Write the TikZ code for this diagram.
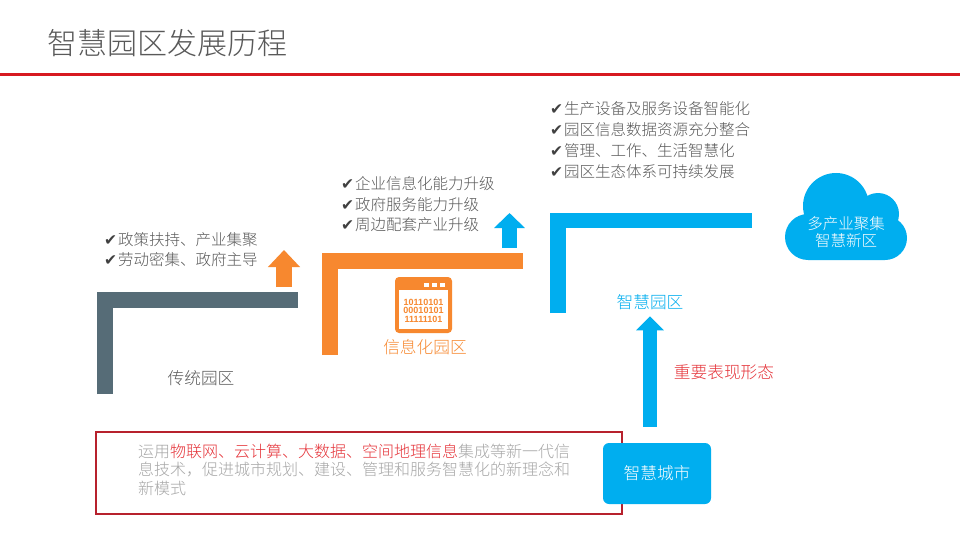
\documentclass[tikz,border=0pt]{standalone}
\usepackage{fontspec}
\setmainfont{Noto Sans CJK SC Light}
\newfontfamily\symfont{DejaVu Sans}
\newfontfamily\bitfont{Liberation Sans}
\usetikzlibrary{arrows.meta}
\definecolor{slate}{HTML}{566C77}
\definecolor{ora}{HTML}{F7882F}
\definecolor{sky}{HTML}{00AEEF}
\definecolor{redline}{HTML}{D71920}
\definecolor{boxred}{HTML}{B7212D}
\definecolor{txtred}{HTML}{E53238}
\definecolor{txtgray}{HTML}{595959}
\definecolor{ltgray}{HTML}{A6A6A6}
\definecolor{chkgray}{HTML}{404040}
\newcommand{\chk}{{\symfont\color{chkgray}✔}\kern1pt}
\tikzset{stepbar/.style={line width=16pt,line join=miter}}
\tikzset{uparr/.style n args={3}{line width=#1,-{Triangle[width=#2,length=#3]}}}
\tikzset{bul/.style={anchor=west,inner sep=0pt,align=left,text=txtgray}}
\tikzset{lbl/.style={inner sep=0pt,font=\fontsize{16.7}{17}\selectfont}}

\begin{document}
\begin{tikzpicture}[x=1pt,y=-1pt]
\useasboundingbox (0,0) rectangle (960,540);
\fill[white] (0,0) rectangle (960,540);
\node (title) at (47,43) [anchor=west,inner sep=0pt,text=txtgray,font=\fontsize{30}{30}\selectfont] {智慧园区发展历程};
\draw[redline,line width=2.5pt] (0,74.5)--(960,74.5);
\draw[stepbar,slate] (105,394)--(105,300)--(298,300);
\draw[stepbar,ora] (330,355)--(330,261)--(523,261);
\draw[stepbar,sky,line width=15.5pt] (558,313)--(558,220.5)--(752,220.5);
\draw[uparr={16pt}{31pt}{17pt},ora] (284,287)--(284,250);
\draw[uparr={15pt}{30pt}{15pt},sky] (509.5,248)--(509.5,213);
\node (trad) at (104,250) [bul,font=\fontsize{15.5}{20}\selectfont] {\chk 政策扶持、产业集聚\\\chk 劳动密集、政府主导};
\node (info) at (341,204.5) [bul,font=\fontsize{15.5}{20.5}\selectfont] {\chk 企业信息化能力升级\\\chk 政府服务能力升级\\\chk 周边配套产业升级};
\node (smart) at (550,140.5) [bul,font=\fontsize{15.5}{21}\selectfont] {\chk 生产设备及服务设备智能化\\\chk 园区信息数据资源充分整合\\\chk 管理、工作、生活智慧化\\\chk 园区生态体系可持续发展};
\node (tradlbl) at (201,378) [lbl,text=txtgray] {传统园区};
\node (infolbl) at (425,347) [lbl,text=ora] {信息化园区};
\node (park) at (650,302) [lbl,text=sky] {智慧园区};
\fill[ora,rounded corners=4pt] (395,277) rectangle (452,333);
\fill[white] (399,290) rectangle (448,329);
\foreach \i in {0,1,2}
  \fill[white] (424+\i*8,283) rectangle ++(5,4);
\node (bits) at (423.5,310.5) [inner sep=0pt,align=center,text=ora,font=\bitfont\bfseries\fontsize{9}{8.6}\selectfont] {10110101\\00010101\\11111101};
\fill[sky] (836,206) circle (33pt) (878,214) circle (21pt) (885,238) circle (22pt) (808,237) circle (23pt) (808,226) rectangle (885,260);
\node (cloud) at (846,232) [inner sep=0pt,align=center,text=white,font=\fontsize{15.5}{17}\selectfont] {多产业聚集\\智慧新区};
\draw[boxred,line width=2pt] (96,432) rectangle (622,514);
\node (desc) at (138,469.7) [bul,text=ltgray,font=\fontsize{16}{18.5}\selectfont] {运用\textcolor{txtred}{物联网、云计算、大数据、空间地理信息}集成等新一代信\\息技术，促进城市规划、建设、管理和服务智慧化的新理念和\\新模式};
\node (city) at (657,473.5) [fill=sky,rounded corners=6pt,minimum width=108pt,minimum height=61pt,text=white,font=\fontsize{16.7}{17}\selectfont] {智慧城市};
\draw[uparr={14pt}{27pt}{14pt},sky,shorten <=16pt,shorten >=6.5pt] (city.north -| park.south)--(park.south);
\node (role) at (724,372) [lbl,text=txtred] {重要表现形态};
\end{tikzpicture}
\end{document}
